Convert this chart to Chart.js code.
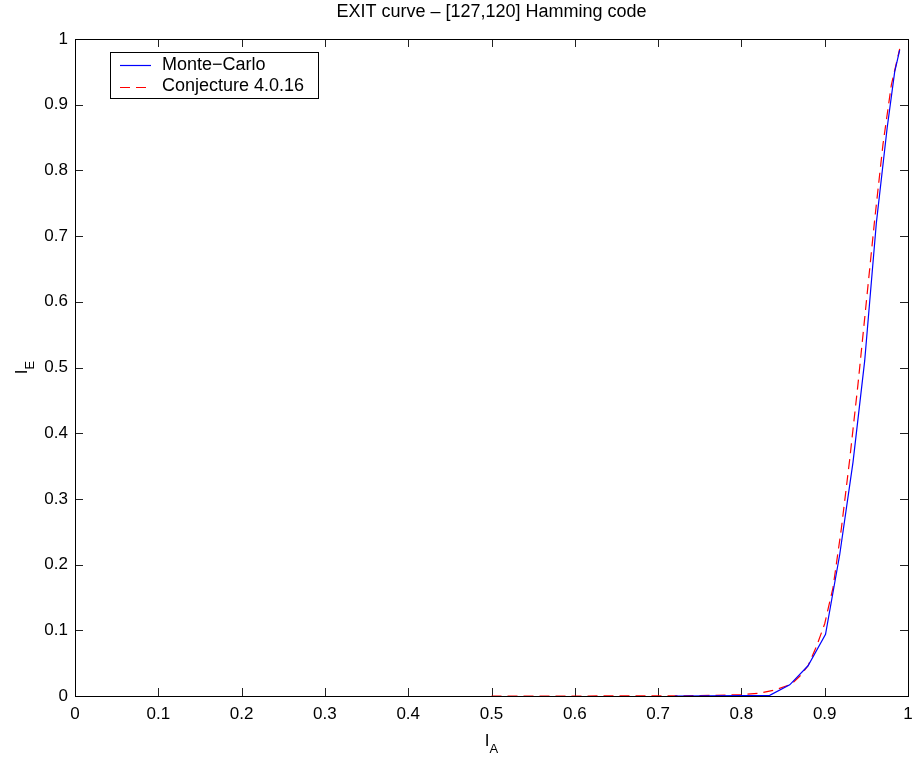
<!DOCTYPE html>
<html>
<head>
<meta charset="utf-8">
<script src="https://cdn.jsdelivr.net/npm/chart.js@4.4.1/dist/chart.umd.min.js"></script>
<style>
html,body{margin:0;padding:0;background:#fff;}
#wrap{width:915px;height:757px;position:relative;}
</style>
</head>
<body>
<div id="wrap"><canvas id="c" width="915" height="757"></canvas></div>
<script>
// ---- data ----
const titleText = "EXIT curve \u2013 [127,120] Hamming code";
const xTitleMain = "I", xTitleSub = "A";
const yTitleMain = "I", yTitleSub = "E";
const seriesNames = ["Monte\u2212Carlo", "Conjecture 4.0.16"];
const tickValues = [0, 0.1, 0.2, 0.3, 0.4, 0.5, 0.6, 0.7, 0.8, 0.9, 1];

const mcX = [0.72, 0.80, 0.834, 0.858, 0.880, 0.901, 0.918, 0.934, 0.948, 0.962, 0.975, 0.984, 0.990];
const mcY = [0.000, 0.0005, 0.001, 0.017, 0.046, 0.094, 0.215, 0.356, 0.510, 0.720, 0.865, 0.950, 0.983];

const cjX = [0.50, 0.60, 0.70, 0.75, 0.80, 0.82, 0.84, 0.86, 0.87, 0.88, 0.89, 0.90, 0.91, 0.92, 0.93, 0.94, 0.95, 0.96, 0.97, 0.98, 0.99];
const cjY = [0.000, 0.000, 0.0002, 0.0005, 0.002, 0.004, 0.009, 0.018, 0.030, 0.046, 0.075, 0.110, 0.165, 0.255, 0.360, 0.475, 0.600, 0.725, 0.840, 0.930, 0.985];

const FONT = "'Liberation Sans', Arial, Helvetica, sans-serif";
const BLUE = '#0000ff', RED = '#ff0000';
const colors = [BLUE, RED];
const dashes = [[], [10, 6]];

const pairs = (xs, ys) => xs.map((x, i) => ({x: x, y: ys[i]}));

const frame = {
  id: 'frame',
  beforeDatasetsDraw(chart) {
    const ctx = chart.ctx, a = chart.chartArea;
    const xs = chart.scales.x, ys = chart.scales.y;
    ctx.save();
    ctx.strokeStyle = '#222';
    ctx.lineWidth = 1;
    const tl = 8;
    ctx.beginPath();
    tickValues.forEach(v => {
      const px = Math.round(xs.getPixelForValue(v)) + 0.5;
      ctx.moveTo(px, a.bottom); ctx.lineTo(px, a.bottom - tl);
      ctx.moveTo(px, a.top); ctx.lineTo(px, a.top + tl);
      const py = Math.round(ys.getPixelForValue(v)) + 0.5;
      ctx.moveTo(a.left, py); ctx.lineTo(a.left + tl, py);
      ctx.moveTo(a.right, py); ctx.lineTo(a.right - tl, py);
    });
    ctx.stroke();
    ctx.strokeStyle = '#000';
    ctx.strokeRect(Math.round(a.left) + 0.5, Math.round(a.top) + 0.5, Math.round(a.right - a.left), Math.round(a.bottom - a.top));
    ctx.restore();
  }
};

const decor = {
  id: 'decor',
  afterDatasetsDraw(chart) {
    const ctx = chart.ctx, a = chart.chartArea;
    ctx.save();
    // title
    ctx.fillStyle = '#000';
    ctx.font = '18px ' + FONT;
    ctx.textAlign = 'center';
    ctx.textBaseline = 'middle';
    ctx.fillText(titleText, (a.left + a.right) / 2, 12);

    // x axis title with subscript
    ctx.textAlign = 'left';
    ctx.textBaseline = 'alphabetic';
    const big = '17px ' + FONT, small = '13px ' + FONT;
    ctx.font = big;
    const cx = (a.left + a.right) / 2;
    const wI = ctx.measureText(xTitleMain).width;
    ctx.font = small;
    const wA = ctx.measureText(xTitleSub).width;
    const sx = cx - (wI + wA) / 2;
    ctx.font = big;
    ctx.fillText(xTitleMain, sx, 746);
    ctx.font = small;
    ctx.fillText(xTitleSub, sx + wI, 753);

    // y axis title rotated
    ctx.save();
    ctx.translate(27, (a.top + a.bottom) / 2);
    ctx.rotate(-Math.PI / 2);
    ctx.font = big;
    const wIy = ctx.measureText(yTitleMain).width;
    ctx.font = small;
    const wE = ctx.measureText(yTitleSub).width;
    const sy = -(wIy + wE) / 2;
    ctx.font = big;
    ctx.fillText(yTitleMain, sy, 0);
    ctx.font = small;
    ctx.fillText(yTitleSub, sy + wIy, 7);
    ctx.restore();

    // legend box
    const lx = 110.5, ly = 52.5, lw = 208, lh = 46;
    ctx.fillStyle = '#fff';
    ctx.fillRect(lx, ly, lw, lh);
    ctx.strokeStyle = '#000';
    ctx.lineWidth = 1;
    ctx.strokeRect(lx, ly, lw, lh);
    const rows = [65, 86.5];
    seriesNames.forEach((name, i) => {
      ctx.strokeStyle = colors[i];
      ctx.lineWidth = 1.2;
      ctx.setLineDash(dashes[i]);
      ctx.beginPath();
      ctx.moveTo(120, Math.round(rows[i]) + 0.5);
      ctx.lineTo(151, Math.round(rows[i]) + 0.5);
      ctx.stroke();
      ctx.setLineDash([]);
      ctx.fillStyle = '#000';
      ctx.font = '18px ' + FONT;
      ctx.textAlign = 'left';
      ctx.textBaseline = 'middle';
      ctx.fillText(name, 162, rows[i]);
    });
    ctx.restore();
  }
};

new Chart(document.getElementById('c'), {
  type: 'line',
  data: {
    datasets: [
      { label: seriesNames[0], data: pairs(mcX, mcY), borderColor: BLUE, borderWidth: 1.2, pointRadius: 0, tension: 0, fill: false },
      { label: seriesNames[1], data: pairs(cjX, cjY), borderColor: RED, borderWidth: 1.2, borderDash: dashes[1], pointRadius: 0, tension: 0, fill: false }
    ]
  },
  options: {
    responsive: false,
    animation: false,
    devicePixelRatio: 1,
    layout: { padding: { top: 39, right: 7, left: 0, bottom: 0 } },
    plugins: { legend: { display: false }, title: { display: false }, tooltip: { enabled: false } },
    scales: {
      x: {
        type: 'linear', min: 0, max: 1,
        grid: { display: false, drawTicks: false },
        border: { display: false },
        afterBuildTicks: s => { s.ticks = tickValues.map(v => ({value: v})); },
        afterFit: s => { s.height = 61; s.paddingLeft = 0; s.paddingRight = 0; },
        ticks: { color: '#000', font: { size: 17, family: FONT }, padding: 8, maxRotation: 0, autoSkip: false, callback: v => String(v) }
      },
      y: {
        type: 'linear', min: 0, max: 1,
        grid: { display: false, drawTicks: false },
        border: { display: false },
        afterBuildTicks: s => { s.ticks = tickValues.map(v => ({value: v})); },
        afterFit: s => { s.width = 75; s.paddingTop = 0; s.paddingBottom = 0; },
        ticks: { color: '#000', font: { size: 17, family: FONT }, padding: 7, autoSkip: false, callback: v => String(v) }
      }
    }
  },
  plugins: [frame, decor]
});
</script>
</body>
</html>
